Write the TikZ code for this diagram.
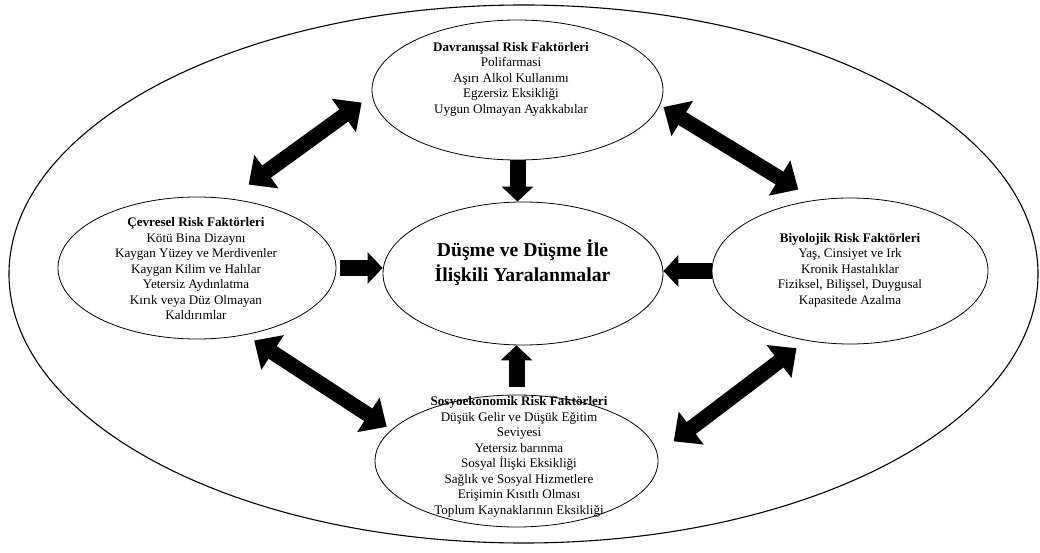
\documentclass[tikz,border=0pt]{standalone}
\usepackage{fontspec}
\setmainfont{Liberation Serif}
\usetikzlibrary{shapes.geometric,arrows.meta}

\tikzset{
  halka/.style={draw,ellipse,inner sep=0pt,line width=0.8pt},
  yazi/.style={align=center,inner sep=0pt,font=\fontsize{13.1}{15.5}\selectfont},
  ciftok/.style={line width=15pt,{Triangle[length=22pt,width=40pt]}-{Triangle[length=22pt,width=40pt]}},
  tekok/.style={line width=16pt,-{Triangle[length=15pt,width=31pt]}}
}

\begin{document}
\begin{tikzpicture}[x=1pt,y=1pt]
  \useasboundingbox (0,0) rectangle (1040,-553);
  % ellipses
  \node[halka,line width=1.1pt,minimum width=1029pt,minimum height=538pt] (dis) at (523.5,-274) {};
  \node[halka,minimum width=291pt,minimum height=140pt] (davranissal) at (517.5,-90) {};
  \node[halka,minimum width=278pt,minimum height=142pt] (cevresel) at (197,-268) {};
  \node[halka,minimum width=280pt,minimum height=143pt] (dusme) at (523,-273.5) {};
  \node[halka,minimum width=276pt,minimum height=146pt] (biyolojik) at (850,-271) {};
  \node[halka,minimum width=283pt,minimum height=132pt] (sosyoekonomik) at (516.5,-461) {};
  % texts
  \node[yazi] (davranissal-t) at (511,-79) {\textbf{Davranışsal Risk Faktörleri}\\Polifarmasi\\Aşırı Alkol Kullanımı\\Egzersiz Eksikliği\\Uygun Olmayan Ayakkabılar};
  \node[yazi] (cevresel-t) at (196,-269) {\textbf{Çevresel Risk Faktörleri}\\Kötü Bina Dizaynı\\Kaygan Yüzey ve Merdivenler\\Kaygan Kilim ve Halılar\\Yetersiz Aydınlatma\\Kırık veya Düz Olmayan\\Kaldırımlar};
  \node[yazi] (biyolojik-t) at (850,-270) {\textbf{Biyolojik Risk Faktörleri}\\Yaş, Cinsiyet ve Irk\\Kronik Hastalıklar\\Fiziksel, Bilişsel, Duygusal\\Kapasitede Azalma};
  \node[yazi] (sosyoekonomik-t) at (519,-457) {\textbf{Sosyoekonomik Risk Faktörleri}\\Düşük Gelir ve Düşük Eğitim\\Seviyesi\\Yetersiz barınma\\Sosyal İlişki Eksikliği\\Sağlık ve Sosyal Hizmetlere\\Erişimin Kısıtlı Olması\\Toplum Kaynaklarının Eksikliği};
  \node[align=center,inner sep=0pt,font=\fontsize{19.7}{25}\selectfont\bfseries] (dusme-t) at (522.5,-263) {Düşme ve Düşme İle\\İlişkili Yaralanmalar};
  % arrows into the centre
  \begin{scope}[tekok]
    \draw (davranissal.south) to (davranissal.south |- dusme.north);
    \draw[shorten <=4pt] (cevresel.east) to (cevresel.east -| dusme.west);
    \draw (biyolojik.west) to (biyolojik.west -| dusme.east);
    \draw[shorten <=8pt] (sosyoekonomik.north) to (sosyoekonomik.north |- dusme.south);
  \end{scope}
  % arrows round the ring
  \begin{scope}[ciftok]
    \draw[shorten <=23.8pt,shorten >=12.8pt] (cevresel.65.4) to (davranissal.182);
    \draw[shorten <=4pt,shorten >=20pt] (davranissal.354) to (biyolojik.116.4);
    \draw[shorten <=10.2pt,shorten >=5.4pt] (cevresel.306.8) to (sosyoekonomik.166.7);
    \draw[shorten <=12.5pt,shorten >=20.3pt] (biyolojik.238.9) to (sosyoekonomik.3.7);
  \end{scope}
\end{tikzpicture}
\end{document}
